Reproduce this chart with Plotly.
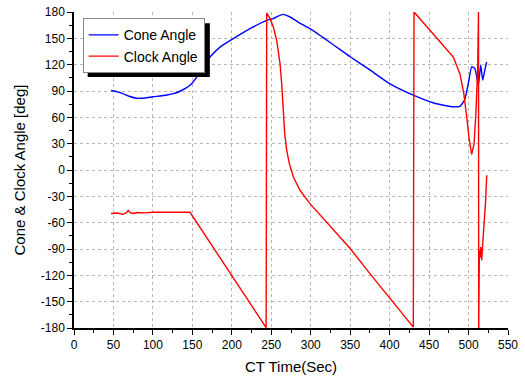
import plotly.graph_objects as go

cone_t = [47, 55, 62, 70, 79, 90, 100, 109, 118, 126, 135, 147, 155.5, 163.9, 172.4, 185, 201.9, 223, 244.2, 252.6, 258, 265.3, 273.8, 285, 299, 325, 350, 375, 400, 430, 455, 470, 481, 489, 495, 500, 504, 508, 512.5, 515.4, 518, 521, 523]
cone_v = [90.5, 89, 87, 84, 81.7, 82, 83.5, 84.3, 85.5, 87, 90, 96.5, 105.9, 119.2, 128.7, 140, 149.6, 161, 170.5, 172.4, 175, 177.3, 174.3, 168, 161, 145, 129, 114, 98.4, 85.2, 76.6, 73.5, 72, 72.6, 79.7, 100, 117.6, 115.5, 96.7, 119.6, 102.5, 115.5, 123]

clock_t = [47, 55, 62, 66, 68.8, 71, 75, 80, 90, 100, 120, 147, 243.5, 244.2, 248.4, 252.6, 256.9, 259, 261.1, 263.2, 264.5, 265.3, 267, 269.6, 272.9, 278, 286.4, 299, 320.3, 350, 375, 400.5, 430, 430.9, 432, 455, 468, 480.7, 489, 494, 497.7, 501, 504, 507, 509.5, 511.6, 512.6, 512.9, 513.3, 513.7, 514.5, 515.4, 516.2, 516.7, 517.5, 519.6, 521.7, 523]
clock_v = [-49.5, -49, -50.5, -49, -45.9, -48.5, -49.5, -48.5, -48.8, -48.2, -48.2, -48.2, -179.5, 178.8, 172.4, 162.9, 147.7, 136.3, 121.2, 98.4, 79.4, 60.4, 41.5, 22.4, 7.3, -8, -23.1, -38.3, -59.2, -89.5, -118, -146.5, -179, 180, 178.8, 155.3, 142, 128.7, 109.8, 87, 60.4, 33.8, 17.9, 30, 68, 117.3, 180, -180, -140, -91.5, -100, -87.7, -96, -102.8, -90, -65, -34.5, -6]

x_ticks = [0, 50, 100, 150, 200, 250, 300, 350, 400, 450, 500, 550]
y_ticks = [-180, -150, -120, -90, -60, -30, 0, 30, 60, 90, 120, 150, 180]

font = "Liberation Sans, Arial, sans-serif"

fig = go.Figure()
fig.add_trace(go.Scatter(x=cone_t, y=cone_v, mode="lines", name="Cone Angle",
                         line=dict(color="#0000ff", width=1.4, shape="spline", smoothing=0.5)))
fig.add_trace(go.Scatter(x=clock_t, y=clock_v, mode="lines", name="Clock Angle",
                         line=dict(color="#ff0000", width=1.4)))

fig.update_layout(
    width=525, height=378,
    margin=dict(l=74, r=17, t=12, b=50),
    paper_bgcolor="white", plot_bgcolor="white",
    font=dict(family=font, size=12, color="black"),
    showlegend=True,
    legend=dict(x=0.02, y=0.98, xanchor="left", yanchor="top",
                bgcolor="white", bordercolor="#888888", borderwidth=1,
                font=dict(size=14, family=font), itemwidth=30,
                tracegroupgap=0),
    xaxis=dict(range=[0, 550], tickvals=x_ticks, ticktext=[str(v) for v in x_ticks],
               showline=True, linecolor="black", linewidth=1.5,
               ticks="outside", ticklen=5, tickwidth=1.2, tickcolor="black",
               minor=dict(dtick=25, tick0=0, ticks="outside", ticklen=3, tickcolor="black", showgrid=False),
               showgrid=True, gridcolor="#b8b8b8", griddash="dot", gridwidth=1,
               zeroline=False, automargin=False,
               title=dict(text="CT Time(Sec)", font=dict(size=15), standoff=10),
               tickfont=dict(size=12)),
    xaxis2=dict(range=[0, 550], overlaying="x", side="top", showline=True,
                linecolor="black", linewidth=1.5, tickvals=x_ticks, showticklabels=False,
                ticks="inside", ticklen=5, tickwidth=1.2, tickcolor="black",
                minor=dict(dtick=25, tick0=0, ticks="inside", ticklen=3, tickcolor="black", showgrid=False),
                showgrid=False, zeroline=False, automargin=False),
    yaxis=dict(range=[-180, 180], tickvals=y_ticks, ticktext=[str(v) for v in y_ticks],
               showline=True, linecolor="black", linewidth=1.5,
               ticks="outside", ticklen=5, tickwidth=1.2, tickcolor="black",
               minor=dict(dtick=15, tick0=0, ticks="outside", ticklen=3, tickcolor="black", showgrid=False),
               showgrid=True, gridcolor="#b8b8b8", griddash="dot", gridwidth=1,
               zeroline=False, automargin=False,
               title=dict(text="Cone & Clock Angle [deg]", font=dict(size=15), standoff=12),
               tickfont=dict(size=12)),
)

# legend drop shadow
fig.add_shape(type="rect", xref="paper", yref="paper",
              x0=0.02 + 5/434, x1=0.313, y0=0.794, y1=0.98 - 5/316,
              fillcolor="black", line=dict(width=0), layer="above")

fig.write_html("out.html", config={"displayModeBar": False},
               post_script="document.body.style.margin='0';")
